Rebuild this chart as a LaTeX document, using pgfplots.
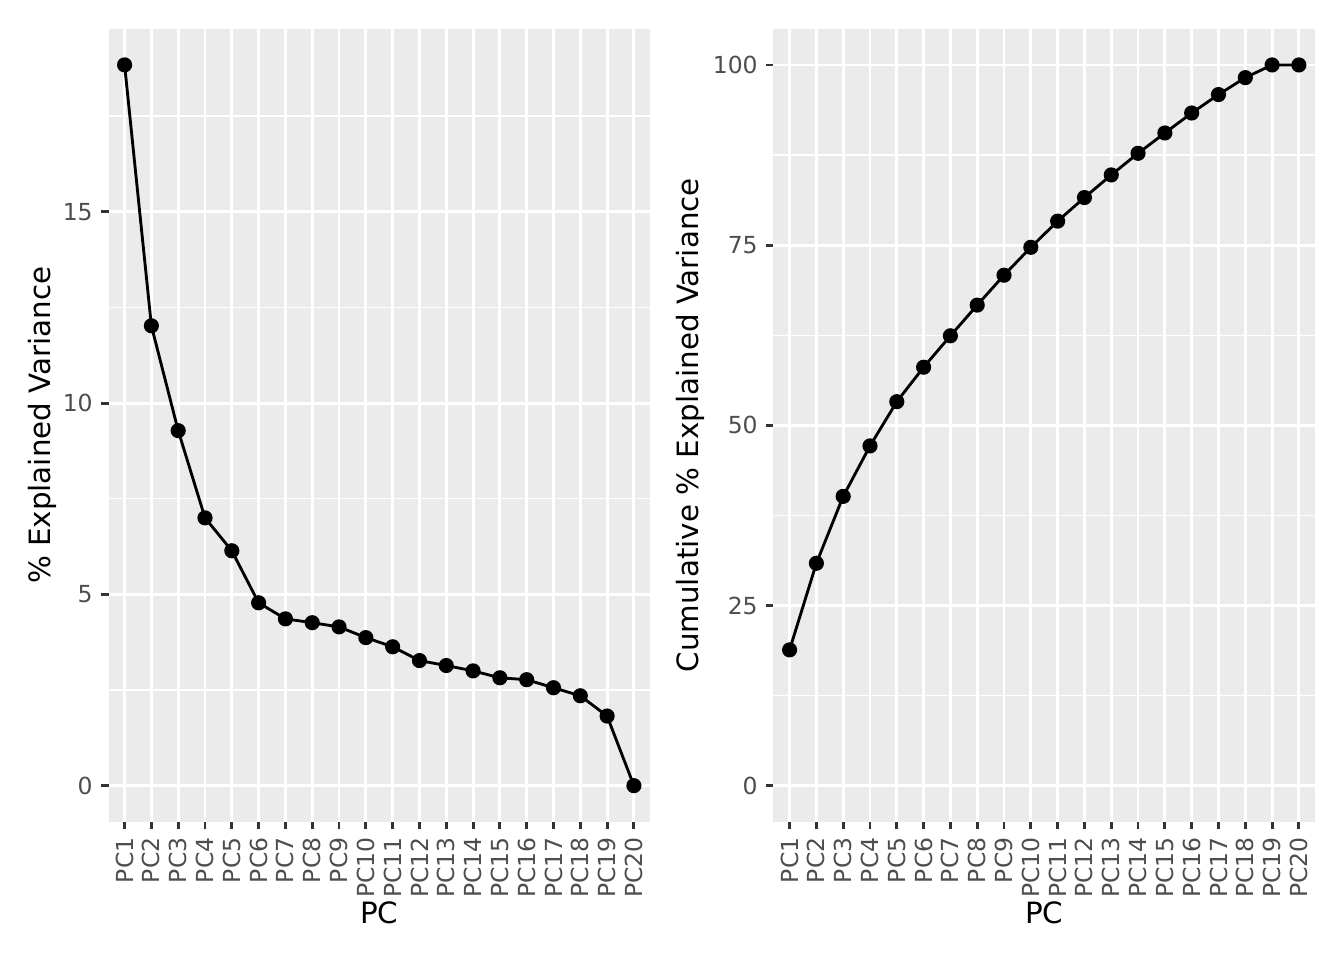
\documentclass[border=0pt]{standalone}
\usepackage{fontspec}
\setmainfont{DejaVu Sans}
\usepackage{pgfplots}
\pgfplotsset{compat=1.18}
\definecolor{panelbg}{HTML}{EBEBEB}
\definecolor{tickcol}{HTML}{333333}
\definecolor{labcol}{HTML}{4D4D4D}
\pgfplotsset{
  ggstyle/.style={
    scale only axis, width=203.06pt, height=297.3pt,
    axis background/.style={fill=panelbg},
    axis line style={draw=none},
    xmin=0.4, xmax=20.6,
    xtick={1,2,...,20},
    xticklabels={PC1,PC2,PC3,PC4,PC5,PC6,PC7,PC8,PC9,PC10,PC11,PC12,PC13,PC14,PC15,PC16,PC17,PC18,PC19,PC20},
    grid=both,
    major grid style={white, line width=1.07pt},
    minor grid style={white, line width=0.53pt},
    tick align=outside, tick pos=left,
    major tick length=2.75pt, minor tick length=0pt,
    tick style={tickcol, line width=1.07pt},
    /pgf/number format/assume math mode=true,
    ticklabel style={font=\fontsize{8.8pt}{10pt}\selectfont, text=labcol},
    yticklabel style={anchor=east, inner sep=0pt, xshift=-3pt},
    xticklabel style={rotate=90, anchor=east, inner sep=0pt, xshift=-3pt},
    label style={font=\fontsize{11pt}{13pt}\selectfont, text=black},
    xlabel={PC},
    xlabel style={at={([yshift=-34.3pt]axis description cs:0.5,0)}, anchor=center},
    clip=false,
  },
  ggline/.style={black, line width=1.07pt, mark=*, mark size=2.3pt, mark options={solid, fill=black}},
}
\begin{document}
\begin{tikzpicture}
\path[use as bounding box] (0,0) rectangle (504pt,360pt);
\begin{axis}[ggstyle,
  at={(40.69pt,51.86pt)}, anchor=south west,
  ymin=-0.942, ymax=19.78,
  ytick={0,5,10,15}, minor ytick={2.5,7.5,12.5,17.5},
  ylabel={\% Explained Variance},
  ylabel style={at={([xshift=-24.9pt]axis description cs:0,0.5)}, anchor=center, rotate=0},
]
\addplot[ggline] coordinates {
(1,18.84) (2,12.02) (3,9.28) (4,7.00) (5,6.14) (6,4.78) (7,4.36) (8,4.26) (9,4.15) (10,3.87)
(11,3.63) (12,3.27) (13,3.14) (14,3.00) (15,2.82) (16,2.77) (17,2.56) (18,2.35) (19,1.82) (20,0)
};
\end{axis}
\begin{axis}[ggstyle,
  at={(290.06pt,51.86pt)}, anchor=south west,
  ymin=-5, ymax=105,
  ytick={0,25,50,75,100}, minor ytick={12.5,37.5,62.5,87.5},
  ylabel={Cumulative \% Explained Variance},
  ylabel style={at={([xshift=-31.3pt]axis description cs:0,0.5)}, anchor=center, rotate=0},
]
\addplot[ggline] coordinates {
(1,18.84) (2,30.86) (3,40.14) (4,47.14) (5,53.28) (6,58.06) (7,62.42) (8,66.68) (9,70.83) (10,74.70)
(11,78.33) (12,81.60) (13,84.74) (14,87.74) (15,90.56) (16,93.33) (17,95.89) (18,98.24) (19,100) (20,100)
};
\end{axis}
\end{tikzpicture}
\end{document}
